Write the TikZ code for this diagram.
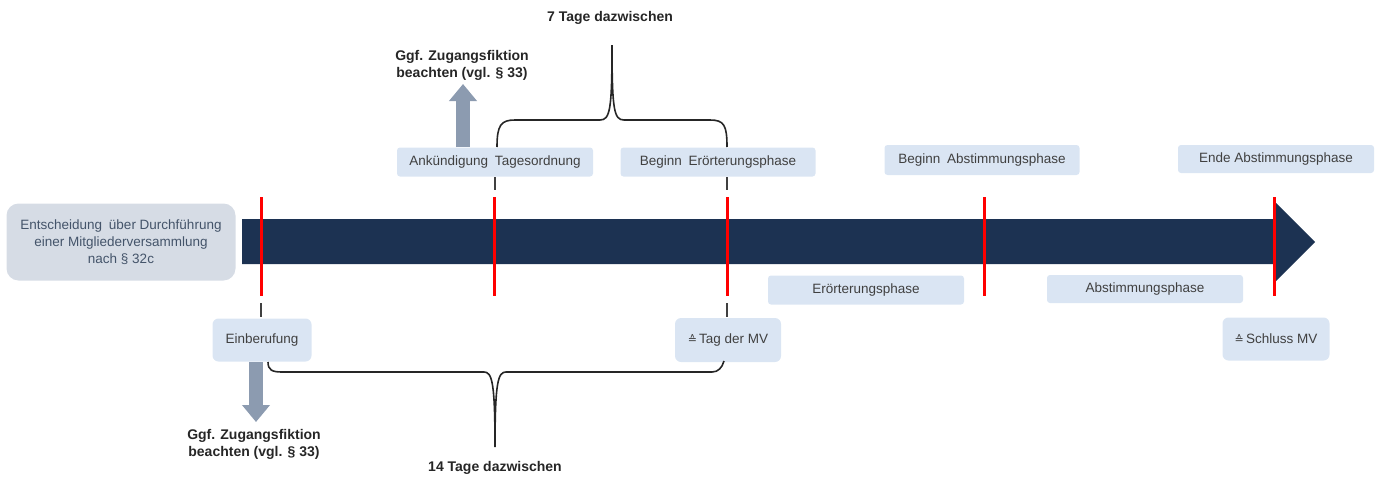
\documentclass[tikz,border=0pt]{standalone}
\usepackage{fontspec}
\setmainfont{Liberation Sans}
\newfontfamily\symf{DejaVu Sans}
\usetikzlibrary{arrows.meta}
\definecolor{boxfill}{HTML}{DAE5F3}
\definecolor{leftfill}{HTML}{D6DCE5}
\definecolor{navy}{RGB}{28,50,82}
\definecolor{txt}{HTML}{404040}
\definecolor{lefttxt}{HTML}{44546A}
\definecolor{grayarrow}{HTML}{8C9BB0}
\definecolor{redline}{RGB}{255,0,0}
\newcommand{\corr}{{\symf\fontsize{11}{11}\selectfont ≙}}
\begin{document}
\begin{tikzpicture}[x=1pt,y=-1pt,
  lbox/.style={fill=boxfill,draw=none,inner sep=0pt,align=center,text=txt,
    font=\fontsize{13.5}{17}\selectfont,rounded corners=3pt},
  bbox/.style={lbox,rounded corners=6pt},
  blabel/.style={inner sep=0pt,align=center,font=\bfseries\fontsize{14}{17}\selectfont,text=black!85},
  redmark/.style={draw=redline,line width=3pt},
  tick/.style={draw=black!75,line width=1.6pt},
  brace/.style={draw=black!85,line width=1.6pt},
  fatarrow/.style={draw=grayarrow,line width=14pt,-{Triangle[width=27pt,length=17pt]}}
]
\useasboundingbox (0,0) rectangle (1378,477);

% main arrow
\coordinate (a1) at (242,219);
\coordinate (a2) at (1275,219);
\coordinate (a3) at (1275,202);
\coordinate (a4) at (1315,242);
\coordinate (a5) at (1275,282);
\coordinate (a6) at (1275,264);
\coordinate (a7) at (242,264);
\fill[navy] (a1) -- (a2) -- (a3) -- (a4) -- (a5) -- (a6) -- (a7) -- cycle;

% left box
\node[lbox,fill=leftfill,text=lefttxt,rounded corners=12pt,minimum width=229pt,minimum height=77pt]
  (ent) at (121,242) {Entscheidung\enspace über Durchführung\\einer Mitgliederversammlung\\nach § 32c};

% red marks
\foreach \n/\x in {r1/261,r2/494,r3/727,r4/984,r5/1274}{
  \coordinate (\n t) at (\x,197);
  \coordinate (\n b) at (\x,296);
  \draw[redmark] (\n t) -- (\n b);
}

% top boxes
\node[lbox,minimum width=196pt,minimum height=29pt] (ank) at (495,162) {Ankündigung\enspace Tagesordnung};
\node[lbox,minimum width=195pt,minimum height=29pt] (beg) at (718,162) {Beginn\enspace Erörterungsphase};
\node[lbox,minimum width=195pt,minimum height=30pt] (bab) at (982,160) {Beginn\enspace Abstimmungsphase};
\node[lbox,minimum width=196pt,minimum height=28pt] (ende) at (1276,159) {Ende Abstimmungsphase};

% bottom boxes
\node[lbox,minimum width=196pt,minimum height=29pt] (eph) at (866,290) {Erörterungsphase};
\node[lbox,minimum width=196pt,minimum height=28pt] (aph) at (1145,289) {Abstimmungsphase};
\node[bbox,minimum width=99pt,minimum height=43pt] (ein) at (262,340) {Einberufung};
\node[bbox,minimum width=106pt,minimum height=44pt] (tag) at (728,340) {\corr\,Tag der MV};
\node[bbox,minimum width=107pt,minimum height=43pt] (sch) at (1276,339) {\corr\,Schluss MV};

% ticks
\coordinate (k1a) at (261,303); \coordinate (k1b) at (261,317);
\coordinate (k2a) at (727,303); \coordinate (k2b) at (727,317);
\coordinate (k3a) at (495,177); \coordinate (k3b) at (495,190);
\coordinate (k4a) at (727,177); \coordinate (k4b) at (727,190);
\draw[tick] (k1a) -- (k1b);
\draw[tick] (k2a) -- (k2b);
\draw[tick] (k3a) -- (k3b);
\draw[tick] (k4a) -- (k4b);

% labels
\node[blabel] (ggf1) at (462,65) {Ggf. Zugangsfiktion\\beachten (vgl. § 33)};
\node[blabel] (ggf2) at (254,444) {Ggf. Zugangsfiktion\\beachten (vgl. § 33)};
\node[blabel] (t7) at (610,18) {7 Tage dazwischen};
\node[blabel] (t14) at (495,468) {14 Tage dazwischen};

% gray arrows
\coordinate (g1s) at (463,147); \coordinate (g1e) at (463,84);
\coordinate (g2s) at (256,362); \coordinate (g2e) at (256,422);
\draw[fatarrow] (g1s) -- (g1e);
\draw[fatarrow] (g2s) -- (g2e);

% top brace
\coordinate (b1l) at (497,147);
\coordinate (b1r) at (727,147);
\coordinate (b1t) at (612,45);
\draw[brace] (b1l) .. controls (497,125) and (501,120) .. (515,120) -- (600,120)
  .. controls (610,120) and (612,110) .. (b1t)
  .. controls (612,110) and (614,120) .. (624,120) -- (710,120)
  .. controls (724,120) and (727,125) .. (b1r);

% bottom brace
\coordinate (b2l) at (268,362);
\coordinate (b2r) at (724,361);
\coordinate (b2t) at (495,447);
\draw[brace] (b2l) .. controls (268,370) and (272,372) .. (282,372) -- (484,372)
  .. controls (492,372) and (495,382) .. (b2t)
  .. controls (495,382) and (498,372) .. (506,372) -- (712,372)
  .. controls (718,372) and (722,368) .. (b2r);
\end{tikzpicture}
\end{document}
